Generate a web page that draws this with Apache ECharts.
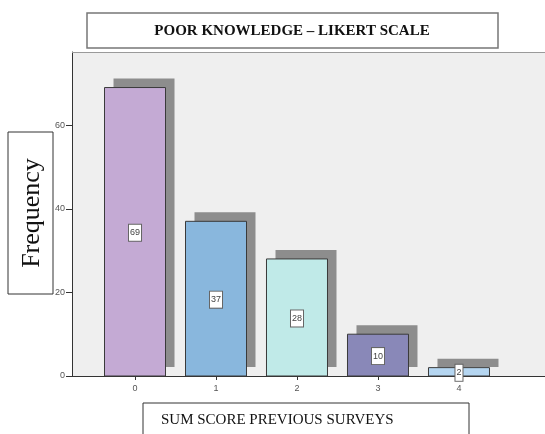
<!DOCTYPE html>
<html><head><meta charset="utf-8">
<script src="https://cdn.jsdelivr.net/npm/echarts@6/dist/echarts.min.js"></script>
<style>html,body{margin:0;padding:0;background:#fff}#c{width:545px;height:434px}</style>
</head><body><div id="c"></div>
<script>
const categories = [0, 1, 2, 3, 4];
const frequencies = [69, 37, 28, 10, 2];
const barColors = ['#c4aad4', '#89b7dd', '#c0eae8', '#8988b8', '#b5d6f1'];
const yTicks = [0, 20, 40, 60];
const titleText = 'POOR KNOWLEDGE \u2013 LIKERT SCALE';
const xTitle = 'SUM SCORE PREVIOUS SURVEYS';
const yTitle = 'Frequency';

const chart = echarts.init(document.getElementById('c'), null, {renderer: 'canvas'});
const data = categories.map((c, i) => [c, frequencies[i], i]);
const BAR_W = 61, SH_X = 9, SH_Y = 9;
function renderItem(params, api) {
  const x = api.value(0), y = api.value(1), idx = api.value(2);
  const top = api.coord([x, y]);
  const base = api.coord([x, 0]);
  const h = base[1] - top[1];
  const left = top[0] - BAR_W / 2;
  return {
    type: 'group',
    children: [
      {type: 'rect', shape: {x: left + SH_X, y: top[1] - SH_Y, width: BAR_W, height: h},
        style: {fill: '#8d8d8d'}},
      {type: 'rect', shape: {x: left, y: top[1], width: BAR_W, height: h},
        style: {fill: barColors[idx], stroke: '#3a3a3a', lineWidth: 1}},
      {type: 'text', x: top[0], y: top[1] + h / 2 + 1,
        style: {text: String(y), fill: '#444', font: '9px "Liberation Sans"',
          align: 'center', verticalAlign: 'middle',
          backgroundColor: '#ffffff', borderColor: '#666', borderWidth: 1,
          padding: [4, 1, 3, 1]}}
    ]
  };
}
chart.setOption({
  animation: false,
  backgroundColor: '#ffffff',
  grid: {left: 72, top: 52, right: 0, bottom: 58, show: true,
    backgroundColor: '#efefef', borderWidth: 0},
  xAxis: {
    type: 'value', min: -0.778, max: 5.062,
    splitLine: {show: false},
    axisLine: {show: true, onZero: false, lineStyle: {color: '#333', width: 1}},
    axisTick: {show: true, customValues: categories, length: 4, lineStyle: {color: '#333'}},
    axisLabel: {customValues: categories, color: '#555', fontSize: 9, fontFamily: 'Liberation Sans', margin: 8}
  },
  yAxis: {
    type: 'value', min: 0, max: 77.5,
    splitLine: {show: false},
    axisLine: {show: true, onZero: false, lineStyle: {color: '#333', width: 1}},
    axisTick: {show: true, customValues: yTicks, length: 6, lineStyle: {color: '#333'}},
    axisLabel: {customValues: yTicks, color: '#555', fontSize: 9, fontFamily: 'Liberation Sans', margin: 7}
  },
  series: [{
    type: 'custom',
    data: data,
    encode: {x: 0, y: 1},
    renderItem: renderItem,
    clip: false
  }],
  graphic: [
    {type: 'line', shape: {x1: 72, y1: 52.5, x2: 545, y2: 52.5},
      style: {stroke: '#9a9a9a', lineWidth: 1}, z: 5},
    {type: 'rect', shape: {x: 87, y: 13, width: 411, height: 35},
      style: {fill: '#fff', stroke: '#777', lineWidth: 1.5}, z: 10},
    {type: 'text', x: 292, y: 31, z: 11,
      style: {text: titleText, fill: '#111', font: 'bold 15px "Liberation Serif"',
        textAlign: 'center', textVerticalAlign: 'middle'}},
    {type: 'rect', shape: {x: 8, y: 132, width: 45, height: 162},
      style: {fill: '#fff', stroke: '#333', lineWidth: 1}, z: 10},
    {type: 'text', x: 32, y: 213, rotation: Math.PI / 2, z: 11,
      style: {text: yTitle, fill: '#111', font: '26px "Liberation Serif"',
        textAlign: 'center', textVerticalAlign: 'middle'}},
    {type: 'rect', shape: {x: 143, y: 403, width: 326, height: 40},
      style: {fill: '#fff', stroke: '#333', lineWidth: 1}, z: 10},
    {type: 'text', x: 161, y: 420, z: 11,
      style: {text: xTitle, fill: '#111', font: '15px "Liberation Serif"',
        textAlign: 'left', textVerticalAlign: 'middle'}}
  ]
});
</script></body></html>
